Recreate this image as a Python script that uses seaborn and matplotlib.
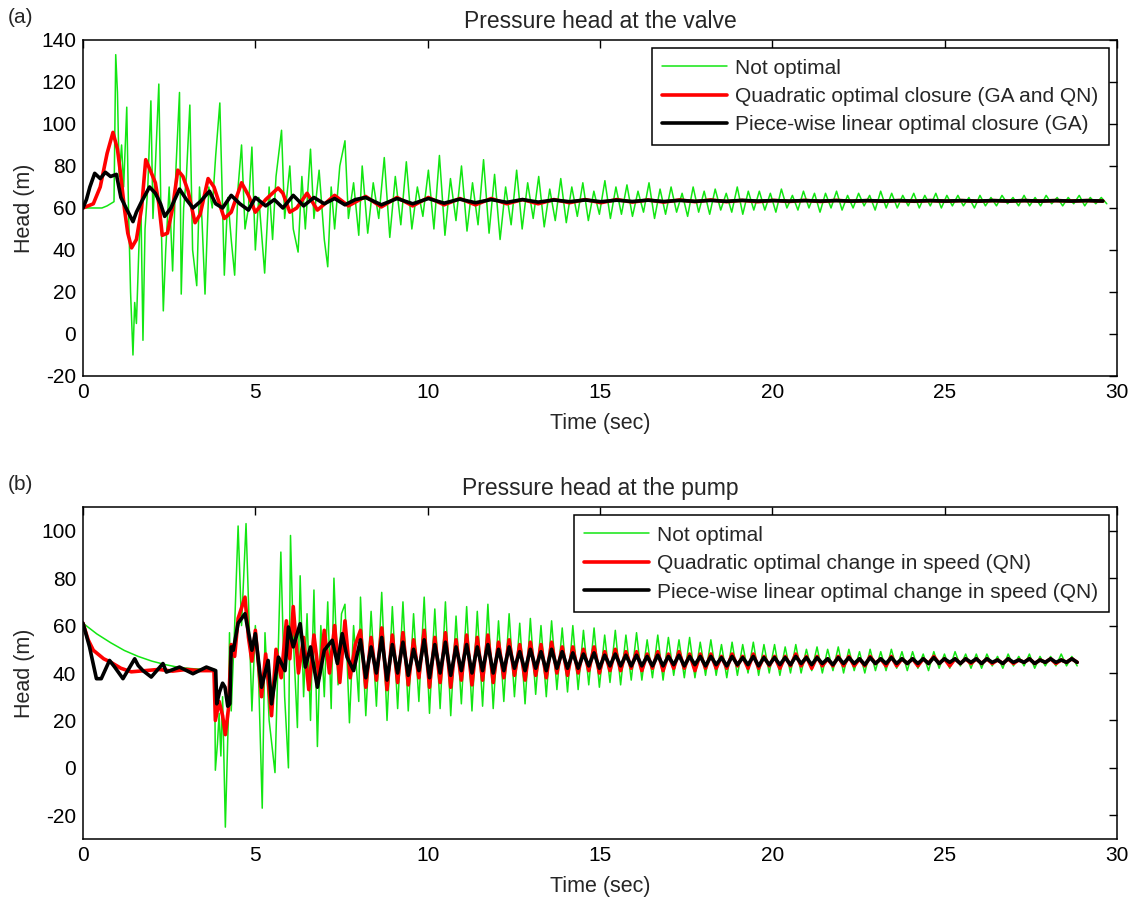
import numpy as np
import seaborn as sns
import matplotlib.pyplot as plt

# ---------------- (a) pressure head at the valve ----------------
# early transient, read point by point (time in s, head in m)
valve_green_t = [0, 0.55, 0.7, 0.9, 0.95, 1.0, 1.05, 1.12, 1.18, 1.27,
                 1.32, 1.38, 1.45, 1.5, 1.55, 1.62, 1.68, 1.74, 1.8, 1.88,
                 1.97, 2.03, 2.1, 2.2, 2.26, 2.33, 2.4, 2.5, 2.6, 2.7,
                 2.8, 2.85, 2.92, 3.0, 3.1, 3.18, 3.3, 3.38, 3.45, 3.54,
                 3.65, 3.75, 3.85, 3.97, 4.05, 4.1, 4.2, 4.3, 4.4, 4.5,
                 4.6, 4.7, 4.8, 4.9, 5.0, 5.1, 5.27, 5.4, 5.5, 5.6,
                 5.76, 5.85, 6.0, 6.1, 6.24, 6.35, 6.45, 6.6, 6.7, 6.85,
                 7.0, 7.1, 7.2, 7.3, 7.45, 7.6, 7.7, 7.85, 8.0]
valve_green = [60, 60, 61, 63, 133, 115, 75, 90, 70, 108,
               60, 20, -10, 15, 5, 40, 62, -3, 50, 70,
               111, 55, 80, 119, 60, 11, 40, 70, 30, 80,
               115, 19, 60, 75, 109, 40, 23, 70, 55, 19,
               70, 60, 85, 110, 60, 28, 65, 45, 28, 70,
               90, 50, 60, 89, 40, 65, 29, 70, 45, 75,
               97, 55, 80, 50, 39, 75, 50, 88, 55, 78,
               45, 32, 70, 50, 80, 92, 55, 72, 47]

valve_red_t = [0, 0.3, 0.5, 0.7, 0.87, 1.0, 1.1, 1.2, 1.3, 1.41,
               1.55, 1.7, 1.82, 1.95, 2.1, 2.2, 2.3, 2.45, 2.6, 2.75,
               2.9, 3.05, 3.25, 3.4, 3.63, 3.8, 4.1, 4.3, 4.6, 4.8,
               5.0, 5.3, 5.66, 5.8, 6.0, 6.2, 6.5, 6.8, 7.3, 7.7]
valve_red = [60, 62, 70, 86, 96, 88, 75, 60, 48, 41,
             45, 60, 83, 78, 72, 62, 47, 48, 60, 78,
             75, 68, 53, 57, 74, 70, 55, 58, 72, 66,
             58, 64, 69.5, 67, 58, 60, 67, 59, 66, 61]

valve_black_t = [0, 0.1, 0.2, 0.34, 0.5, 0.65, 0.8, 0.97, 1.1, 1.25,
                 1.45, 1.55, 1.7, 1.93, 2.1, 2.25, 2.37, 2.55, 2.8, 3.0,
                 3.19, 3.4, 3.67, 3.85, 4.05, 4.3, 4.55, 4.8, 5.0, 5.3,
                 5.55, 5.8, 6.1, 6.4, 6.7, 7.0, 7.3, 7.6, 7.9]
valve_black = [60, 64, 70, 76.5, 74, 77, 75, 76, 65, 60,
               53.5, 58, 63, 70, 67, 62, 56, 60, 69, 64,
               60, 63, 68, 62, 60, 66, 62, 59, 65, 61,
               64, 60, 66, 61, 65, 62, 64.5, 61.5, 64]

# later oscillation: successive peaks and troughs
valve_green_peaks = [80, 72, 84, 75, 82, 70, 78, 85, 74, 80, 72, 83,
                     76, 70, 78, 72, 75, 69, 74, 70, 72, 68, 73, 70,
                     71, 68, 72, 69, 70, 67, 70, 68, 69, 67, 70, 68,
                     68, 67, 69, 66, 68, 67, 67, 68, 66, 67, 66, 68,
                     67, 66, 67, 66, 67, 66, 66, 65, 66, 65, 66, 65,
                     66, 65, 66, 65, 65, 66, 65, 65]
valve_green_troughs = [48, 55, 46, 52, 50, 56, 50, 47, 54, 49, 52, 48,
                       45, 52, 50, 55, 51, 54, 53, 56, 54, 57, 55, 57,
                       56, 58, 55, 57, 58, 56, 58, 57, 59, 58, 57, 59,
                       59, 58, 60, 59, 60, 58, 60, 59, 60, 61, 59, 60,
                       60, 61, 60, 61, 60, 61, 61, 60, 61, 61, 62, 61,
                       61, 61, 62, 61, 62, 61, 62, 62]
valve_red_peaks = [65.5, 65, 65, 64.5, 64.5, 64, 64, 64, 64, 63.8, 63.8, 63.8,
                   63.6, 63.6, 63.6, 63.6, 63.5, 63.5, 63.5, 63.5, 63.5, 63.5, 63.5, 63.5]
valve_red_troughs = [60.5, 61, 61.5, 61.5, 62, 62, 62.5, 62.5, 62.8, 62.8, 63, 63,
                     63, 63.1, 63.1, 63.2, 63.2, 63.2, 63.2, 63.2, 63.3, 63.3, 63.3, 63.3]
valve_black_peaks = [65, 64.5, 64.5, 64.2, 64, 64, 63.8, 63.8, 63.7, 63.7, 63.6, 63.6,
                     63.6, 63.5, 63.5, 63.5, 63.5, 63.5, 63.5, 63.5, 63.5, 63.5, 63.5, 63.5]
valve_black_troughs = [61.5, 62, 62.3, 62.5, 62.7, 62.8, 63, 63, 63.1, 63.1, 63.2, 63.2,
                       63.3, 63.3, 63.3, 63.3, 63.3, 63.3, 63.3, 63.3, 63.3, 63.3, 63.3, 63.3]

# ---------------- (b) pressure head at the pump ----------------
pump_green_t = [0, 0.4, 0.8, 1.2, 1.6, 2.0, 2.4, 2.8, 3.2, 3.6,
                3.82, 3.84, 3.9, 3.95, 4.0, 4.05, 4.13, 4.18, 4.22, 4.25,
                4.3, 4.4, 4.5, 4.6, 4.73, 4.8, 4.9, 5.0, 5.1, 5.2,
                5.28, 5.4, 5.57, 5.74, 5.85, 5.96, 6.02, 6.1, 6.22, 6.3,
                6.4, 6.5, 6.6, 6.7, 6.8, 6.9, 7.0, 7.1, 7.2, 7.28,
                7.4, 7.5, 7.6, 7.73, 7.85, 8.0]
pump_green = [61, 56.5, 52.8, 49.5, 47, 45, 43.5, 42.3, 41.8, 41.5,
              41.5, -1, 10, 23, 5, 30, -25, 2, 23, 57,
              24, 60, 102, 60, 103, 70, 24, 60, 35, -17,
              57, 20, -2, 91, 30, 0, 98, 55, 17, 81,
              30, 65, 20, 75, 9, 60, 30, 70, 25, 80,
              35, 65, 69, 19, 60, 28]

pump_red_t = [0, 0.15, 0.3, 0.6, 0.8, 1.1, 1.4, 1.8, 2.2, 2.6,
              3.0, 3.4, 3.8, 3.84, 3.95, 4.05, 4.13, 4.22, 4.3, 4.4,
              4.5, 4.7, 4.8, 4.9, 5.0, 5.18, 5.3, 5.47, 5.6, 5.75,
              5.9, 6.0, 6.1, 6.25, 6.4, 6.55, 6.7, 6.85, 7.0, 7.15,
              7.3, 7.45, 7.6, 7.75, 7.9]
pump_red = [61, 54, 49.6, 46, 44.6, 42, 40.5, 41, 41.5, 40.8,
            41.5, 41, 41, 20, 28, 22, 14, 25, 52, 47,
            63, 72, 55, 45, 58, 30, 48, 22, 50, 38,
            62, 46, 68, 40, 55, 33, 56, 38, 58, 40,
            60, 36, 62, 38, 52]

pump_black_t = [0, 0.19, 0.39, 0.53, 0.77, 0.92, 1.16, 1.5, 1.6, 1.74,
                1.98, 2.32, 2.42, 2.8, 3.19, 3.58, 3.85, 3.88, 3.96, 4.05,
                4.12, 4.2, 4.26, 4.3, 4.36, 4.5, 4.7, 4.9, 5.0, 5.18,
                5.37, 5.47, 5.67, 5.86, 5.96, 6.1, 6.3, 6.45, 6.6, 6.8,
                7.0, 7.23, 7.38, 7.52, 7.66, 7.85]
pump_black = [61, 51, 37.6, 37.6, 45.3, 42.5, 37.6, 46, 43.2, 41,
              38.3, 44, 40.4, 42.5, 39.7, 42.5, 41, 27, 32, 35.7,
              34, 26, 27, 51, 49.6, 61, 65, 49.6, 56.6, 34,
              45.3, 27, 46.7, 41, 59.4, 51, 60.8, 42.5, 51, 34,
              49.6, 53.8, 44, 56.6, 46.7, 41]

pump_green_peaks = [72, 66, 74, 68, 70, 65, 72, 67, 70, 64, 68, 66, 69,
                    62, 65, 61, 63, 60, 62, 59, 60, 58, 59, 56, 58, 56,
                    57, 54, 56, 55, 54, 55, 53, 54, 52, 53, 52, 53, 52,
                    52, 51, 52, 50, 51, 50, 51, 50, 49, 50, 49, 50, 49,
                    49, 48, 49, 48, 49, 48, 48, 48, 47, 48, 47, 48, 47, 47, 48, 47]
pump_green_troughs = [22, 26, 20, 25, 24, 28, 23, 25, 22, 27, 24, 26, 25,
                      28, 30, 27, 31, 30, 33, 32, 33, 35, 34, 36, 35, 37,
                      37, 38, 37, 39, 38, 38, 39, 39, 38, 39, 40, 39, 40,
                      39, 40, 40, 41, 40, 41, 40, 41, 40, 41, 41, 42, 41,
                      42, 41, 42, 42, 43, 42, 42, 43, 42, 43, 43, 42, 43, 43, 43, 43]
pump_red_peaks = [58, 55, 59, 56, 57, 54, 58, 55, 57, 54, 56, 55, 56,
                  53, 54, 52, 53, 52, 53, 51, 51, 50, 51, 49, 50, 49,
                  49, 48, 49, 48, 49, 48, 48, 48, 47, 48, 47, 48, 47,
                  47, 47, 48, 47, 47, 46, 47, 47, 46, 47, 46, 47, 46,
                  46, 46, 47, 46, 46, 46, 46, 46, 45.5, 46, 45.5, 46, 45.5, 46, 45.5, 46]
pump_red_troughs = [34, 37, 33, 36, 35, 38, 34, 36, 34, 37, 35, 37, 36,
                    38, 39, 37, 39, 38, 40, 39, 40, 41, 40, 41, 41, 42,
                    41, 42, 41, 42, 42, 41, 42, 42, 42, 43, 42, 42, 43,
                    42, 43, 43, 42, 43, 43, 43, 43, 43, 44, 43, 43, 44,
                    43, 44, 44, 43, 44, 44, 44, 44, 44, 44, 44.5, 44, 44.5, 44, 44.5, 44.5]
pump_black_peaks = [54, 51, 55, 52, 53, 50, 54, 52, 53, 51, 52, 51, 52,
                    50, 51, 49, 50, 49, 50, 49, 48.5, 48, 48.5, 47.5, 48, 47.5,
                    47.5, 47, 47.5, 47, 47.5, 47, 47, 47, 46.5, 47, 46.5, 47, 46.5,
                    46.5, 46.5, 47, 46.5, 46.5, 46, 46.5, 46.5, 46, 46.5, 46, 46.5, 46,
                    46, 46, 46.5, 46, 46, 46, 46, 46, 45.5, 46, 45.5, 46, 45.5, 46, 45.5, 46]
pump_black_troughs = [38, 40, 37, 40, 39, 41, 38, 40, 39, 41, 40, 41, 40,
                      41, 42, 41, 42, 41, 42, 42, 42, 43, 42, 43, 43, 43,
                      43, 43, 43, 43.5, 43, 43.5, 43, 43.5, 43, 43.5, 43.5, 43, 43.5,
                      43.5, 43.5, 44, 43.5, 44, 43.5, 44, 44, 43.5, 44, 44, 44, 44,
                      44, 44, 44, 44.5, 44, 44.5, 44, 44.5, 44, 44.5, 44.5, 44, 44.5, 44.5, 44.5, 44.5]

valve_labels = ['Not optimal', 'Quadratic optimal closure (GA and QN)',
                'Piece-wise linear optimal closure (GA)']
pump_labels = ['Not optimal', 'Quadratic optimal change in speed (QN)',
               'Piece-wise linear optimal change in speed (QN)']

line_colors = ['#12e612', '#ff0000', '#000000']
line_widths = [1.1, 2.6, 2.6]


def join(t_early, v_early, t0, half, peaks, troughs):
    # early transient points followed by alternating peak/trough values
    vals = [v for pair in zip(peaks, troughs) for v in pair]
    t_tail = list(t0 + half * np.arange(len(vals)))
    return list(t_early) + t_tail, list(v_early) + vals


valve_series = [
    join(valve_green_t, valve_green, 8.1, 0.16, valve_green_peaks, valve_green_troughs),
    join(valve_red_t, valve_red, 8.2, 0.455, valve_red_peaks, valve_red_troughs),
    join(valve_black_t, valve_black, 8.2, 0.455, valve_black_peaks, valve_black_troughs),
]
pump_series = [
    join(pump_green_t, pump_green, 8.05, 0.154, pump_green_peaks, pump_green_troughs),
    join(pump_red_t, pump_red, 8.05, 0.154, pump_red_peaks, pump_red_troughs),
    join(pump_black_t, pump_black, 8.05, 0.154, pump_black_peaks, pump_black_troughs),
]

sns.set_style('white')
plt.rcParams['font.family'] = ['Liberation Sans', 'DejaVu Sans']
plt.rcParams['axes.unicode_minus'] = False

fig = plt.figure(figsize=(11.29, 8.98), dpi=100)
ax_a = fig.add_axes([0.0735, 0.5813, 0.916, 0.3742])
ax_b = fig.add_axes([0.0735, 0.0657, 0.916, 0.3697])


def draw(ax, series, labels, ylim, yticks, title):
    for (t, v), lab, col, lw in zip(series, labels, line_colors, line_widths):
        sns.lineplot(x=t, y=v, ax=ax, color=col, lw=lw, label=lab,
                     sort=False, estimator=None)
    ax.set_xlim(0, 30)
    ax.set_ylim(*ylim)
    ax.set_xticks(range(0, 31, 5))
    ax.set_yticks(yticks)
    ax.tick_params(direction='in', top=True, right=True, length=6,
                   width=1, labelsize=15, pad=5, colors='black')
    for sp in ax.spines.values():
        sp.set_color('black')
        sp.set_linewidth(1.1)
    ax.set_title(title, fontsize=16.5, y=1.036, pad=0)
    ax.set_xlabel('Time (sec)', fontsize=15.5, labelpad=8)
    ax.set_ylabel('Head (m)', fontsize=15.5, labelpad=4)
    leg = ax.legend(loc='upper right', fontsize=15, handlelength=3.1,
                    handletextpad=0.4, borderaxespad=0.4, labelspacing=0.45,
                    fancybox=False, framealpha=1, edgecolor='black',
                    borderpad=0.5)
    leg.get_frame().set_linewidth(1.1)


draw(ax_a, valve_series, valve_labels, (-20, 140), range(-20, 141, 20),
     'Pressure head at the valve')
draw(ax_b, pump_series, pump_labels, (-30, 110), range(-20, 101, 20),
     'Pressure head at the pump')

fig.text(0.007, 0.98, '(a)', fontsize=15, va='center')
fig.text(0.007, 0.46, '(b)', fontsize=15, va='center')

fig.savefig('out.png', dpi=100, facecolor='white')
